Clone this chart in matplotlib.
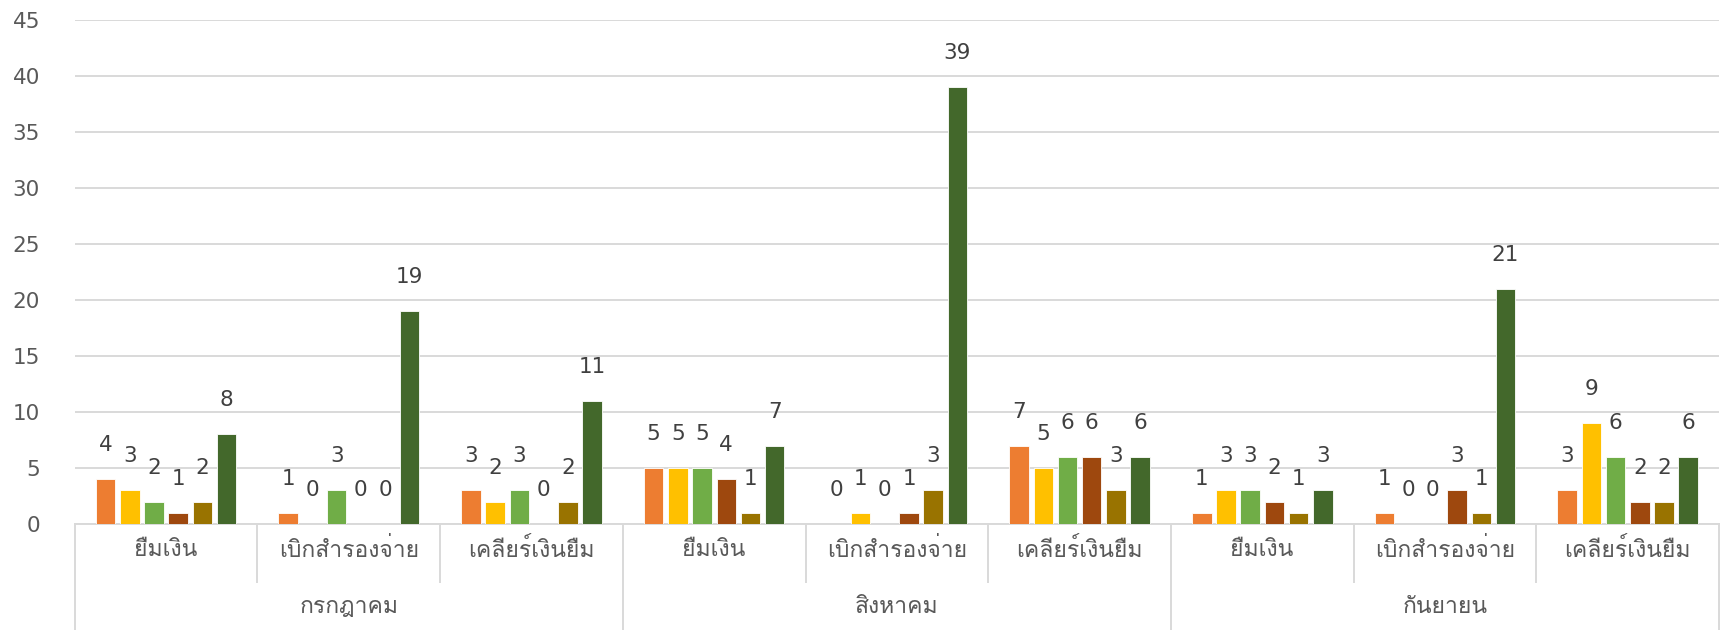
import matplotlib
matplotlib.use("Agg")
import matplotlib.pyplot as plt
from matplotlib import font_manager
from matplotlib.ft2font import FT2Font
import numpy as np

# chart data
months = ["กรกฎาคม", "สิงหาคม", "กันยายน"]
categories = ["ยืมเงิน", "เบิกสำรองจ่าย", "เคลียร์เงินยืม"]
series_colors = ["#ED7D31", "#FFC000", "#70AD47", "#9E480E", "#997300", "#43682B"]

# one list per series, 9 values: (month x category)
s1 = [4, 1, 3, 5, 0, 7, 1, 1, 3]
s2 = [3, 0, 2, 5, 1, 5, 3, 0, 9]
s3 = [2, 3, 3, 5, 0, 6, 3, 0, 6]
s4 = [1, 0, 0, 4, 1, 6, 2, 3, 2]
s5 = [2, 0, 2, 1, 3, 3, 1, 1, 2]
s6 = [8, 19, 11, 7, 39, 6, 3, 21, 6]
series = [s1, s2, s3, s4, s5, s6]
yticks = [0, 5, 10, 15, 20, 25, 30, 35, 40, 45]


def find_thai_fonts():
    """Return names of installed fonts that have Thai glyphs."""
    names = []
    for f in font_manager.fontManager.ttflist:
        try:
            if 0x0E22 in FT2Font(f.fname).get_charmap() and f.name not in names:
                names.append(f.name)
        except Exception:
            pass
    return names


thai = find_thai_fonts()
family = thai + ["DejaVu Sans"]
plt.rcParams["font.family"] = ["DejaVu Sans"] + thai

grid_c = "#D9D9D9"
text_c = "#595959"
label_c = "#404040"

fig = plt.figure(figsize=(17.21, 6.3), dpi=100)
ax = fig.add_axes([0.0434, 0.1683, 0.9555, 0.80])

n = len(months) * len(categories)
x = np.arange(n)
pitch = 0.1325
width = 0.107

for i, vals in enumerate(series):
    pos = x + (i - 2.5) * pitch
    ax.bar(pos, vals, width, color=series_colors[i], edgecolor="white", linewidth=0.6, zorder=3)
    for px, v in zip(pos, vals):
        ax.annotate(str(v), (px, v), xytext=(0, 24.5), textcoords="offset points",
                    ha="center", va="center", fontsize=15.5, color=label_c)

ax.set_xlim(-0.5, n - 0.5)
ax.set_ylim(0, 45)
ax.set_yticks(yticks)
ax.yaxis.grid(True, color=grid_c, linewidth=1.4, zorder=0)
ax.tick_params(axis="y", length=0, labelsize=15.5, labelcolor=text_c, pad=25)
ax.tick_params(axis="x", length=0, labelbottom=False)
for sp in ["top", "right", "left"]:
    ax.spines[sp].set_visible(False)
ax.spines["bottom"].set_color(grid_c)
ax.spines["bottom"].set_linewidth(1.4)

# two-level category axis drawn below the plot
tr = ax.get_xaxis_transform()
ncat = len(categories)
for k in range(n + 1):
    bottom = -0.21 if k % ncat == 0 else -0.115
    ax.plot([k - 0.5, k - 0.5], [0, bottom], transform=tr, color=grid_c,
            linewidth=1.4, clip_on=False)
for k in range(n):
    ax.text(k, -0.052, categories[k % ncat], transform=tr, ha="center", va="center",
            fontsize=16.5, color=text_c, family=family)
for m, name in enumerate(months):
    ax.text(m * ncat + (ncat - 1) / 2, -0.165, name, transform=tr, ha="center",
            va="center", fontsize=16.5, color=text_c, family=family)

fig.savefig("out.png", dpi=100)
